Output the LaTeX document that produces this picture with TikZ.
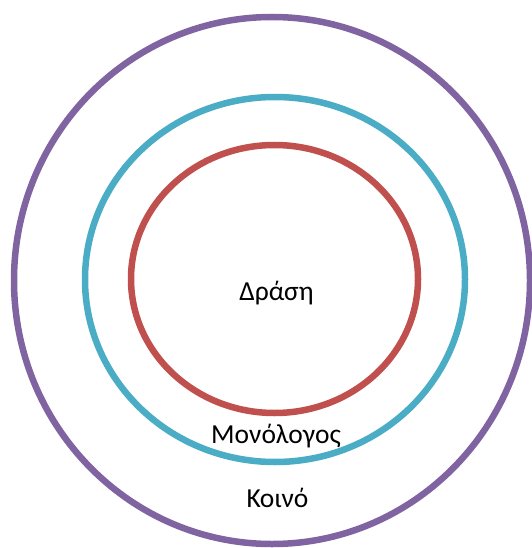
\documentclass[tikz,border=0pt]{standalone}
\usepackage{fontspec}
\setmainfont{Carlito}
\definecolor{cpurple}{HTML}{8064A2}
\definecolor{ccyan}{HTML}{4BACC6}
\definecolor{cred}{HTML}{C0504D}
\begin{document}
\begin{tikzpicture}[x=1pt,y=-1pt,
  ring/.style={line width=6.5pt},
  lbl/.style={font=\fontsize{27.5}{32}\selectfont, inner sep=0pt, anchor=base}]
\useasboundingbox (0,0) rectangle (531,548);
\coordinate (c1) at (272,280.5);
\coordinate (c2) at (275,279.5);
\coordinate (c3) at (274.5,279);
\draw[ring, cpurple] (c1) ellipse [x radius=258, y radius=263.5];
\draw[ring, ccyan] (c2) ellipse [x radius=190, y radius=182.5];
\draw[ring, cred] (c3) ellipse [x radius=143.5, y radius=134];
\node[lbl] (drasi) at (276.5,300) {Δράση};
\node[lbl] (mono) at (276,443) {Μονόλογος};
\node[lbl] (koino) at (277.5,507) {Κοινό};
\end{tikzpicture}
\end{document}
